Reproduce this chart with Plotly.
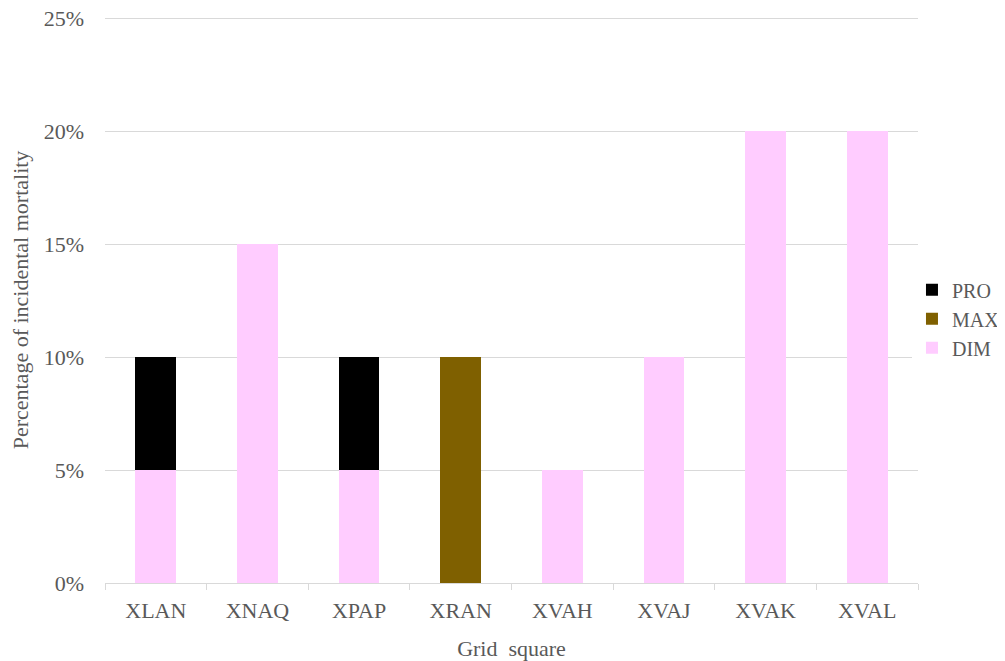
import plotly.graph_objects as go

squares = ["XLAN", "XNAQ", "XPAP", "XRAN", "XVAH", "XVAJ", "XVAK", "XVAL"]
dim = [0.05, 0.15, 0.05, 0.0, 0.05, 0.10, 0.20, 0.20]
maxv = [0.0, 0.0, 0.0, 0.10, 0.0, 0.0, 0.0, 0.0]
pro = [0.05, 0.0, 0.05, 0.0, 0.0, 0.0, 0.0, 0.0]

font = "Liberation Serif, Times New Roman, serif"
grey = "#595959"
fs = 22

fig = go.Figure()
fig.add_trace(go.Bar(x=squares, y=dim, name="DIM", marker_color="#FFCCFF"))
fig.add_trace(go.Bar(x=squares, y=maxv, name="MAX", marker_color="#7F6000"))
fig.add_trace(go.Bar(x=squares, y=pro, name="PRO", marker_color="#000000"))

fig.update_traces(marker_line_width=0)
# page body has an 8px margin, so the figure is sized to fit inside the window
fig.update_layout(
    barmode="stack",
    bargap=0.6,
    width=997, height=653,
    margin=dict(l=97, r=87, t=9, b=78, autoexpand=False),
    paper_bgcolor="white", plot_bgcolor="white",
    font=dict(family=font, size=fs, color=grey),
    legend=dict(traceorder="reversed", xref="container", yref="container",
                x=0.9067, y=0.524, yanchor="middle", xanchor="left",
                font=dict(size=20, color=grey), itemwidth=30, tracegroupgap=0),
    showlegend=True,
)
fig.update_yaxes(range=[0, 0.2506], tickvals=[0, 0.05, 0.10, 0.15, 0.20, 0.25], tickformat=".0%",
                 gridcolor="#D9D9D9", gridwidth=1, zeroline=False,
                 showline=False, ticks="", ticklabelstandoff=20, automargin=False,
                 ticklabeloverflow="allow",
                 title=dict(text="Percentage of incidental mortality", font=dict(size=fs, color=grey), standoff=16))
fig.update_xaxes(showline=True, linecolor="#D9D9D9", linewidth=1, automargin=False,
                 ticks="outside", tickson="boundaries", ticklen=6, tickcolor="#D9D9D9",
                 ticklabelstandoff=8,
                 title=dict(text="Grid\u00a0 square", font=dict(size=fs, color=grey), standoff=18))

fig.write_html("out.html")
